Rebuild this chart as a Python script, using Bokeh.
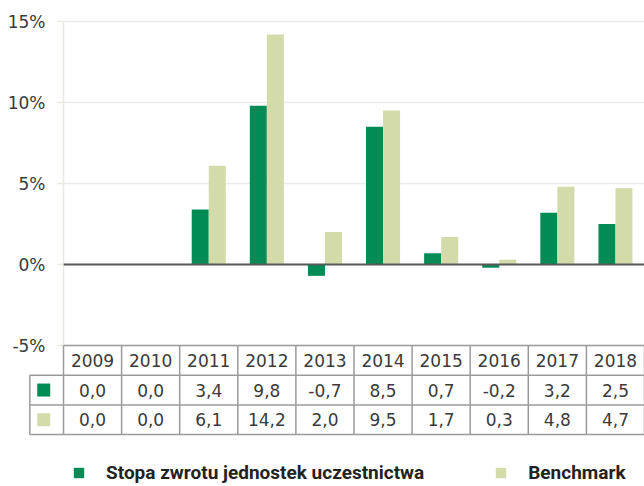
import numpy as np
from bokeh.plotting import figure
from bokeh.models import (Range1d, FixedTicker, PrintfTickFormatter, Span, Legend,
                          LegendItem, ColumnDataSource)
from bokeh.transform import dodge
from bokeh.core.properties import value
from bokeh.embed import file_html
from bokeh.resources import INLINE

# ---------------- data ----------------
years = ["2009", "2010", "2011", "2012", "2013", "2014", "2015", "2016", "2017", "2018"]
fund = [0.0, 0.0, 3.4, 9.8, -0.7, 8.5, 0.7, -0.2, 3.2, 2.5]
bench = [0.0, 0.0, 6.1, 14.2, 2.0, 9.5, 1.7, 0.3, 4.8, 4.7]
y_ticks = [-5, 0, 5, 10, 15]
series_names = ["Stopa zwrotu jednostek uczestnictwa", "Benchmark"]
colors = ["#008C54", "#D3DBAA"]

# ---------------- layout ----------------
W, H = 644, 486
LEFT = 63
PX_PER_PCT = 16.2
TOP_PAD = 21
ymax = 15 + TOP_PAD / PX_PER_PCT
ymin = ymax - H / PX_PER_PCT
BAR_W = 0.293
FONT = "DejaVu Sans"
TXT = "#3a3a3a"
LINE = "#9b9b9b"

p = figure(width=W, height=H, x_range=Range1d(0, len(years)), y_range=Range1d(ymin, ymax),
           output_backend="svg", toolbar_location=None, x_axis_location=None,
           min_border_left=LEFT, min_border_right=0, min_border_top=0, min_border_bottom=0)
p.extra_y_ranges = {"px": Range1d(H, 0)}
p.outline_line_color = None
p.background_fill_color = "white"
p.border_fill_color = "white"

# y axis
ax = p.yaxis[0]
ax.ticker = FixedTicker(ticks=y_ticks)
ax.bounds = (-5, 15)
ax.formatter = PrintfTickFormatter(format="%d%%")
ax.major_label_text_font = FONT
ax.major_label_text_font_size = "17px"
ax.major_label_text_color = TXT
ax.major_tick_out = 6
ax.major_tick_in = 0
ax.minor_tick_out = 0
ax.minor_tick_in = 0
ax.axis_line_color = "#ebe8df"
ax.axis_line_width = 1.5
ax.major_tick_line_color = "#ebe8df"
ax.major_tick_line_width = 1.5
ax.major_label_standoff = 12

p.ygrid.ticker = FixedTicker(ticks=y_ticks)
p.ygrid.grid_line_color = "#ececec"
p.ygrid.grid_line_width = 1.5
p.xgrid.visible = False

# bars
src = ColumnDataSource(dict(x=np.arange(len(years)) + 0.5, fund=fund, bench=bench))
g1 = p.vbar(x=dodge("x", -BAR_W / 2), top="fund", bottom=0, width=BAR_W, source=src,
            fill_color=colors[0], line_color=None)
g2 = p.vbar(x=dodge("x", BAR_W / 2), top="bench", bottom=0, width=BAR_W, source=src,
            fill_color=colors[1], line_color=None)

p.add_layout(Span(location=0, dimension="width", line_color="#595959", line_width=2))

# ---------------- data table ----------------
ROW_TOP = 345
ROW_H = 29.7
KEY_L = -0.58
KEY_X = -0.34
n = len(years)
rows_y = [ROW_TOP + ROW_H * k for k in range(4)]

hx0 = [0] + [KEY_L] * 3
hx1 = [n] * 4
p.segment(x0=hx0, x1=hx1, y0=rows_y, y1=rows_y, y_range_name="px",
          line_color=LINE, line_width=1.5, level="overlay")
vx = list(range(n + 1)) + [KEY_L]
vy0 = [rows_y[0]] * (n + 1) + [rows_y[1]]
vy1 = [rows_y[3]] * (n + 2)
p.segment(x0=vx, x1=vx, y0=vy0, y1=vy1, y_range_name="px",
          line_color=LINE, line_width=1.5, level="overlay")

def fmt(v):
    return f"{v:.1f}".replace(".", ",")

cx = list(np.arange(n) + 0.5)
tx = cx * 3
ty = [rows_y[0] + ROW_H / 2] * n + [rows_y[1] + ROW_H / 2] * n + [rows_y[2] + ROW_H / 2] * n
tt = years + [fmt(v) for v in fund] + [fmt(v) for v in bench]
p.text(x=tx, y=ty, text=tt, y_range_name="px", text_align="center", text_baseline="middle",
       text_font=value(FONT), text_font_size="17px", text_color=TXT, level="overlay")

key_src = ColumnDataSource(dict(x=[KEY_X, KEY_X],
                                y=[rows_y[1] + ROW_H / 2, rows_y[2] + ROW_H / 2],
                                c=colors))
p.rect(x="x", y="y", width=13, height=13, width_units="screen", height_units="screen",
       fill_color="c", line_color=None, source=key_src, y_range_name="px", level="overlay")

# ---------------- legend ----------------
legend = Legend(items=[LegendItem(label=series_names[0], renderers=[g1]),
                       LegendItem(label=series_names[1], renderers=[g2])],
                orientation="horizontal", location=(9, 2),
                glyph_width=13, glyph_height=13, label_standoff=21, spacing=70,
                padding=0, margin=0, border_line_color=None, background_fill_alpha=0,
                label_text_font="Roboto", label_text_font_size="19px",
                label_text_font_style="bold", label_text_color="#222222",
                label_text_baseline="alphabetic")
p.add_layout(legend)

open("out.html", "w").write(file_html(p, INLINE))
